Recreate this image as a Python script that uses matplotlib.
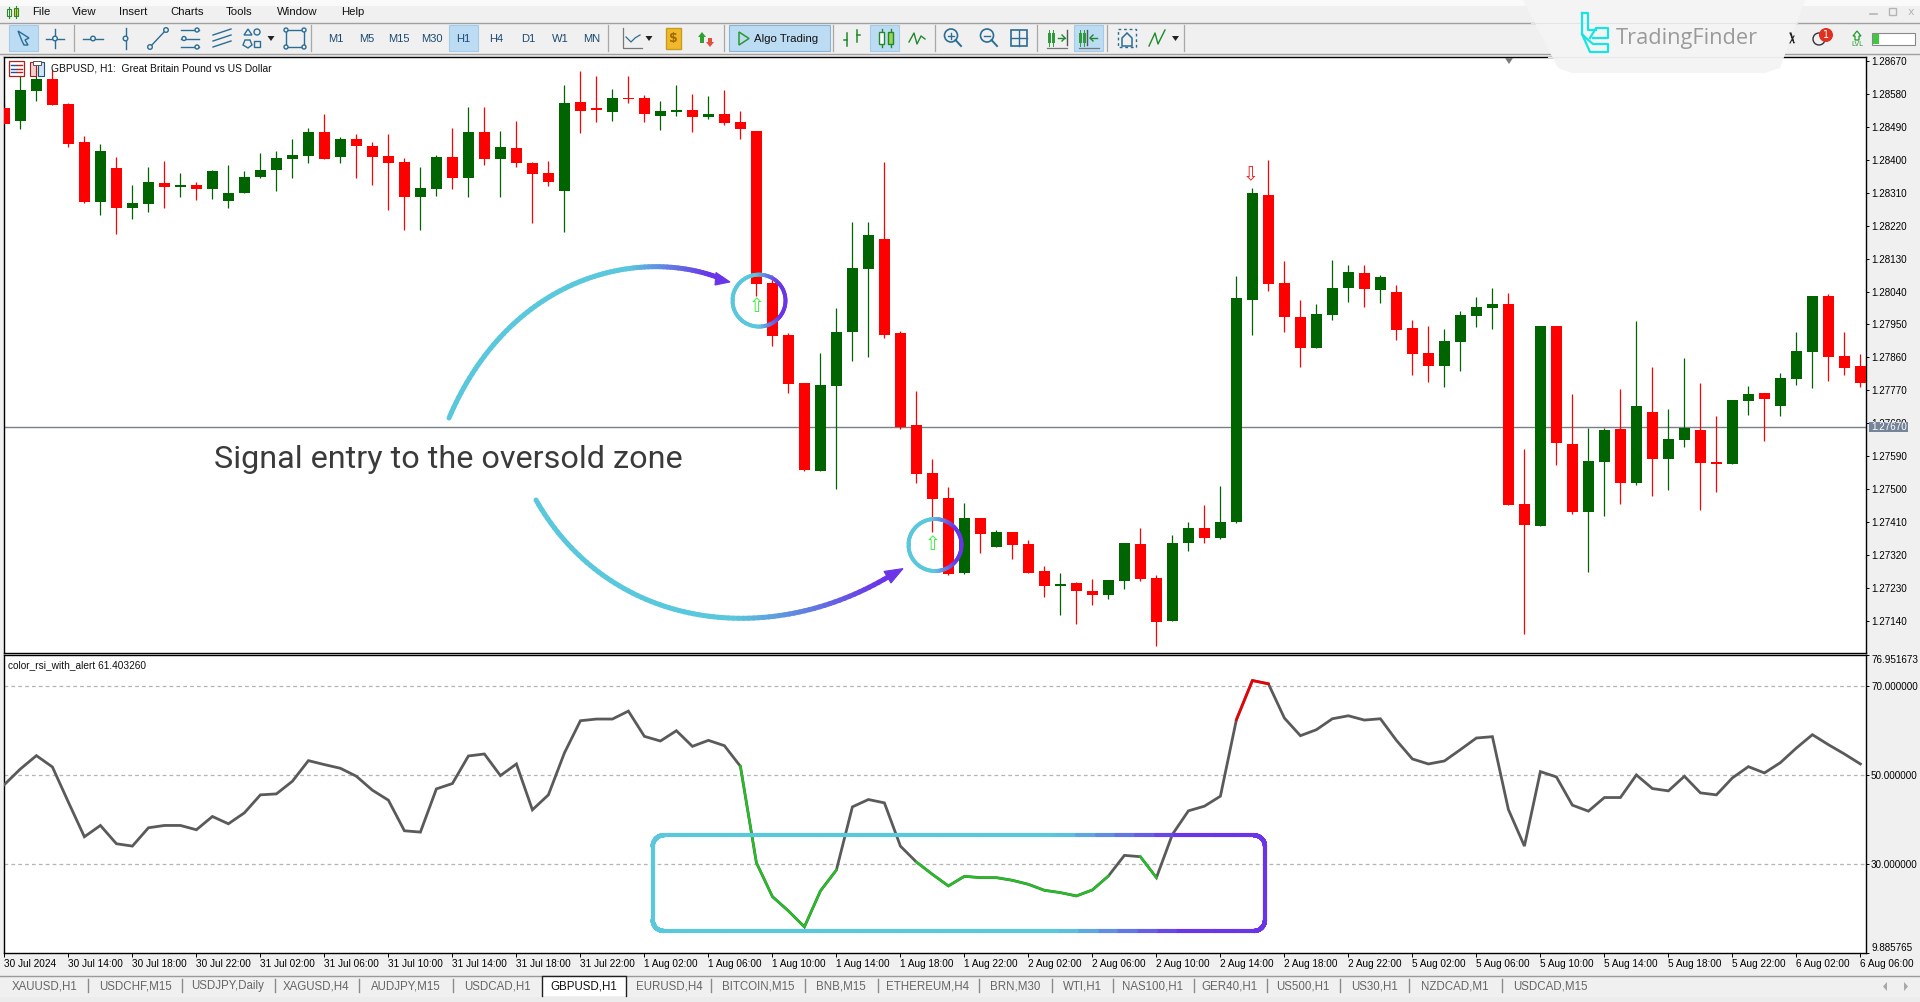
"""GBPUSD H1 terminal screenshot with RSI pane and oversold annotations."""
import matplotlib
matplotlib.use("Agg")
import matplotlib.pyplot as plt
from matplotlib.collections import LineCollection
from matplotlib.colors import to_rgb
from matplotlib.patches import Circle, Polygon, Rectangle
import numpy as np

W, H = 1920, 1002
UI_FONT = "Liberation Sans"

bar_open = [
    1.28541, 1.28507, 1.28589, 1.28621, 1.28553, 1.28449, 1.28285, 1.28378, 1.28269, 1.28280,
    1.28337, 1.28326, 1.28331, 1.28321, 1.28288, 1.28308, 1.28353, 1.28372, 1.28402, 1.28411,
    1.28476, 1.28409, 1.28457, 1.28438, 1.28411, 1.28394, 1.28299, 1.28321, 1.28408, 1.28349,
    1.28476, 1.28401, 1.28432, 1.28391, 1.28364, 1.28316, 1.28558, 1.28542, 1.28532, 1.28569,
    1.28569, 1.28519, 1.28531, 1.28536, 1.28516, 1.28524, 1.28502, 1.28478, 1.28063, 1.27921,
    1.27790, 1.27550, 1.27782, 1.27928, 1.28102, 1.28183, 1.27926, 1.27675, 1.27544, 1.27475,
    1.27270, 1.27421, 1.27341, 1.27382, 1.27349, 1.27275, 1.27234, 1.27243, 1.27221, 1.27210,
    1.27249, 1.27349, 1.27257, 1.27140, 1.27352, 1.27395, 1.27366, 1.27411, 1.28016, 1.28305,
    1.28063, 1.27970, 1.27886, 1.27976, 1.28049, 1.28090, 1.28044, 1.28039, 1.27940, 1.27872,
    1.27836, 1.27902, 1.27973, 1.27995, 1.28006, 1.27459, 1.27399, 1.27946, 1.27623, 1.27437,
    1.27574, 1.27664, 1.27516, 1.27710, 1.27582, 1.27634, 1.27661, 1.27574, 1.27568, 1.27741,
    1.27762, 1.27727, 1.27801, 1.27874, 1.28028, 1.27864, 1.27836,
]
bar_high = [
    1.28555, 1.28637, 1.28654, 1.28646, 1.28555, 1.28465, 1.28443, 1.28408, 1.28331, 1.28381,
    1.28397, 1.28364, 1.28340, 1.28372, 1.28386, 1.28370, 1.28419, 1.28424, 1.28457, 1.28487,
    1.28525, 1.28463, 1.28471, 1.28449, 1.28471, 1.28405, 1.28381, 1.28413, 1.28487, 1.28545,
    1.28545, 1.28479, 1.28506, 1.28394, 1.28397, 1.28605, 1.28643, 1.28629, 1.28594, 1.28629,
    1.28577, 1.28561, 1.28604, 1.28580, 1.28574, 1.28591, 1.28534, 1.28478, 1.28085, 1.27926,
    1.27790, 1.27872, 1.27995, 1.28231, 1.28231, 1.28395, 1.27933, 1.27767, 1.27582, 1.27505,
    1.27462, 1.27421, 1.27389, 1.27382, 1.27360, 1.27289, 1.27272, 1.27245, 1.27253, 1.27251,
    1.27352, 1.27395, 1.27265, 1.27374, 1.27409, 1.27456, 1.27509, 1.28082, 1.28324, 1.28399,
    1.28123, 1.28017, 1.28006, 1.28126, 1.28112, 1.28112, 1.28085, 1.28058, 1.27962, 1.27946,
    1.27937, 1.27987, 1.28025, 1.28049, 1.28036, 1.27609, 1.27946, 1.27946, 1.27760, 1.27667,
    1.27667, 1.27773, 1.27959, 1.27833, 1.27719, 1.27858, 1.27790, 1.27700, 1.27743, 1.27782,
    1.27762, 1.27817, 1.27929, 1.28028, 1.28033, 1.27929, 1.27869,
]
bar_low = [
    1.28499, 1.28485, 1.28562, 1.28551, 1.28436, 1.28283, 1.28250, 1.28198, 1.28237, 1.28258,
    1.28267, 1.28299, 1.28291, 1.28294, 1.28269, 1.28308, 1.28349, 1.28316, 1.28351, 1.28392,
    1.28403, 1.28390, 1.28351, 1.28332, 1.28264, 1.28209, 1.28209, 1.28302, 1.28319, 1.28299,
    1.28387, 1.28297, 1.28381, 1.28226, 1.28329, 1.28204, 1.28474, 1.28502, 1.28507, 1.28556,
    1.28502, 1.28482, 1.28519, 1.28477, 1.28512, 1.28495, 1.28456, 1.28028, 1.27891, 1.27762,
    1.27550, 1.27550, 1.27501, 1.27850, 1.27860, 1.27914, 1.27665, 1.27516, 1.27382, 1.27266,
    1.27268, 1.27325, 1.27341, 1.27308, 1.27272, 1.27204, 1.27155, 1.27131, 1.27183, 1.27200,
    1.27227, 1.27249, 1.27071, 1.27140, 1.27331, 1.27352, 1.27364, 1.27407, 1.27922, 1.28042,
    1.27929, 1.27834, 1.27886, 1.27962, 1.28011, 1.27998, 1.28008, 1.27907, 1.27812, 1.27792,
    1.27779, 1.27823, 1.27943, 1.27937, 1.27456, 1.27104, 1.27399, 1.27566, 1.27432, 1.27273,
    1.27426, 1.27459, 1.27511, 1.27481, 1.27497, 1.27615, 1.27443, 1.27492, 1.27568, 1.27702,
    1.27631, 1.27700, 1.27784, 1.27776, 1.27795, 1.27812, 1.27779,
]
bar_close = [
    1.28499, 1.28591, 1.28621, 1.28551, 1.28444, 1.28285, 1.28424, 1.28269, 1.28282, 1.28340,
    1.28326, 1.28331, 1.28319, 1.28370, 1.28309, 1.28353, 1.28372, 1.28405, 1.28413, 1.28476,
    1.28403, 1.28457, 1.28438, 1.28409, 1.28392, 1.28299, 1.28323, 1.28408, 1.28349, 1.28476,
    1.28401, 1.28435, 1.28392, 1.28362, 1.28338, 1.28555, 1.28534, 1.28537, 1.28569, 1.28565,
    1.28524, 1.28533, 1.28536, 1.28517, 1.28524, 1.28501, 1.28485, 1.28061, 1.27919, 1.27787,
    1.27552, 1.27784, 1.27928, 1.28104, 1.28194, 1.27921, 1.27671, 1.27542, 1.27473, 1.27268,
    1.27421, 1.27378, 1.27382, 1.27347, 1.27272, 1.27234, 1.27240, 1.27221, 1.27210, 1.27251,
    1.27352, 1.27254, 1.27137, 1.27352, 1.27393, 1.27367, 1.27411, 1.28022, 1.28309, 1.28060,
    1.27971, 1.27886, 1.27978, 1.28049, 1.28093, 1.28047, 1.28080, 1.27935, 1.27869, 1.27836,
    1.27905, 1.27976, 1.27998, 1.28006, 1.27456, 1.27402, 1.27946, 1.27626, 1.27437, 1.27577,
    1.27661, 1.27516, 1.27727, 1.27582, 1.27637, 1.27667, 1.27571, 1.27568, 1.27743, 1.27760,
    1.27746, 1.27803, 1.27877, 1.28028, 1.27861, 1.27831, 1.27790,
]
rsi_values = [
    47.83, 51.35, 54.35, 51.80, 43.86, 36.07, 38.62, 34.50, 33.97, 38.09,
    38.62, 38.62, 37.65, 40.64, 38.99, 41.46, 45.51, 45.73, 48.58, 53.22,
    52.33, 51.50, 49.70, 46.56, 44.31, 37.42, 37.12, 46.86, 48.06, 54.27,
    54.72, 49.85, 52.47, 42.14, 45.51, 54.95, 62.21, 62.59, 62.59, 64.38,
    58.69, 57.64, 59.96, 56.44, 57.79, 56.59, 51.95, 30.23, 22.59, 19.37,
    15.77, 23.86, 28.58, 42.81, 44.46, 43.71, 33.97, 30.38, 27.61, 24.99,
    27.16, 26.86, 26.86, 26.26, 25.36, 24.01, 23.49, 22.74, 24.09, 27.23,
    31.88, 31.58, 26.86, 36.60, 41.91, 42.96, 45.21, 62.44, 71.27, 70.53,
    62.81, 58.84, 60.19, 62.66, 63.33, 62.36, 62.66, 57.79, 53.60, 52.47,
    53.15, 55.70, 58.32, 58.62, 42.21, 33.97, 50.75, 49.55, 43.19, 41.84,
    44.91, 44.91, 50.00, 46.93, 46.41, 49.70, 45.96, 45.51, 49.33, 51.87,
    50.45, 52.77, 56.07, 59.07, 56.82, 54.72, 52.47,
]
oversold_runs = [(46, 52), (57, 69), (71, 72)]
overbought_runs = [(77, 79)]
buy_signal_bars = [47, 58]
buy_signal_prices = [1.27998, 1.27348]
sell_signal_bars = [78]
sell_signal_prices = [1.28358]
current_price = 1.27670

price_ticks = [1.28670, 1.28580, 1.28490, 1.28400, 1.28310, 1.28220, 1.28130, 1.28040, 1.27950,
               1.27860, 1.27770, 1.27680, 1.27590, 1.27500, 1.27410, 1.27320, 1.27230, 1.27140]
rsi_levels = [70, 50, 30]
rsi_min, rsi_max = 9.885765, 76.951673
time_labels = [
    "30 Jul 2024", "30 Jul 14:00", "30 Jul 18:00", "30 Jul 22:00", "31 Jul 02:00", "31 Jul 06:00",
    "31 Jul 10:00", "31 Jul 14:00", "31 Jul 18:00", "31 Jul 22:00", "1 Aug 02:00", "1 Aug 06:00",
    "1 Aug 10:00", "1 Aug 14:00", "1 Aug 18:00", "1 Aug 22:00", "2 Aug 02:00", "2 Aug 06:00",
    "2 Aug 10:00", "2 Aug 14:00", "2 Aug 18:00", "2 Aug 22:00", "5 Aug 02:00", "5 Aug 06:00",
    "5 Aug 10:00", "5 Aug 14:00", "5 Aug 18:00", "5 Aug 22:00", "6 Aug 02:00", "6 Aug 06:00",
]
menu_items = ["File", "View", "Insert", "Charts", "Tools", "Window", "Help"]
menu_x = [41, 84.5, 133.5, 187, 239, 297, 353]
timeframes = ["M1", "M5", "M15", "M30", "H1", "H4", "D1", "W1", "MN"]
timeframe_x = [335.6, 367, 399, 432, 463.5, 496, 528, 560, 591.5]
tab_names = ["XAUUSD,H1", "USDCHF,M15", "USDJPY,Daily", "XAGUSD,H4", "AUDJPY,M15", "USDCAD,H1",
             "GBPUSD,H1", "EURUSD,H4", "BITCOIN,M15", "BNB,M15", "ETHEREUM,H4", "BRN,M30", "WTI,H1",
             "NAS100,H1", "GER40,H1", "US500,H1", "US30,H1", "NZDCAD,M1", "USDCAD,M15"]
tab_x = [45, 135, 228, 316.5, 406, 497, 584, 669, 758, 841, 928, 1015, 1082, 1152.5, 1229, 1303,
         1374, 1455, 1550]
tab_separators = [88, 182, 274.5, 359, 453, 711, 805, 878, 979, 1052, 1113, 1194, 1267, 1340, 1409, 1502]

CYAN, PURPLE = "#5ac8dc", "#6a35e8"
CANDLE_UP, CANDLE_DOWN = "#006400", "#ff0000"


def px_axes(fig, left, top, right, bottom, **kw):
    return fig.add_axes([left / W, 1 - bottom / H, (right - left) / W, (bottom - top) / H], **kw)


def gradient_line(ax, xs, ys, lw, x_start, x_end, z=6):
    # colour follows x position: cyan up to x_start, purple from x_end
    pts = np.column_stack([xs, ys])
    segs = np.stack([pts[:-1], pts[1:]], axis=1)
    t = np.clip((segs[:, :, 0].mean(axis=1) - x_start) / (x_end - x_start), 0, 1)[:, None]
    cols = (1 - t) * np.array(to_rgb(CYAN)) + t * np.array(to_rgb(PURPLE))
    ax.add_collection(LineCollection(segs, colors=cols, linewidths=lw, capstyle="round", zorder=z))


def bezier(p0, p1, p2, p3, n=80):
    t = np.linspace(0, 1, n)[:, None]
    pts = ((1 - t) ** 3 * np.array(p0) + 3 * (1 - t) ** 2 * t * np.array(p1)
           + 3 * (1 - t) * t ** 2 * np.array(p2) + t ** 3 * np.array(p3))
    return pts[:, 0], pts[:, 1]


def rounded_rect(left, top, right, bottom, r, n=10):
    a = np.linspace(0, np.pi / 2, n)
    xs, ys = [], []
    for cx, cy, start in [(right - r, top + r, -np.pi / 2), (right - r, bottom - r, 0),
                          (left + r, bottom - r, np.pi / 2), (left + r, top + r, np.pi)]:
        xs.extend(cx + r * np.cos(start + a))
        ys.extend(cy + r * np.sin(start + a))
    # subdivide the long edges so the gradient stays smooth
    xs.append(xs[0]); ys.append(ys[0])
    fx, fy = [], []
    for i in range(len(xs) - 1):
        fx.extend(np.linspace(xs[i], xs[i + 1], 30, endpoint=False))
        fy.extend(np.linspace(ys[i], ys[i + 1], 30, endpoint=False))
    fx.append(xs[0]); fy.append(ys[0])
    return np.array(fx), np.array(fy)


def draw_chrome(ax):
    ax.add_patch(Rectangle((0, 0), W, H, fc="#f0f0f0", ec="none", zorder=0))
    ax.add_patch(Rectangle((0, 0), W, 6, fc="#fafafa", ec="none", zorder=0.5))
    ax.plot([0, W], [22.5, 22.5], color="#a0a0a0", lw=1, zorder=1)
    ax.plot([0, W], [54, 54], color="#a0a0a0", lw=1, zorder=1)
    for label, x in zip(menu_items, menu_x):
        ax.text(x, 12, label, fontsize=8.2, ha="center", va="center", color="#111", family=UI_FONT)
    # app icon
    ax.plot([9, 9], [7, 18], color="#2a8a2a", lw=0.8)
    ax.add_patch(Rectangle((7, 9), 4, 7, fc="#ffffff", ec="#2a8a2a", lw=0.8))
    ax.plot([16, 16], [6, 18], color="#2a8a2a", lw=0.8)
    ax.add_patch(Rectangle((14, 8), 4, 8, fc="#e8d040", ec="#2a8a2a", lw=0.8))
    # highlighted buttons
    for left, right in [(9, 38), (449, 478), (870, 899), (1074, 1103)]:
        ax.add_patch(Rectangle((left, 25), right - left, 26, fc="#bcdcf4", ec="#a4cbe8", lw=0.8, zorder=1))
    ax.add_patch(Rectangle((729, 25), 101, 26, fc="#bcdcf4", ec="#8ab4d4", lw=0.8, zorder=1))
    for x in [73.5, 311, 608, 724, 833, 935, 1036.5, 1107, 1184]:
        ax.plot([x, x], [25, 51], color="#a8a8a8", lw=0.9, zorder=1.5)
    for label, x in zip(timeframes, timeframe_x):
        ax.text(x, 38.5, label, fontsize=8.0, ha="center", va="center", color="#1a4a72", family=UI_FONT, zorder=3)
    ax.text(786, 38.5, "Algo Trading", fontsize=8.2, ha="center", va="center", color="#111", family=UI_FONT, zorder=3)
    ax.add_patch(Polygon([(739, 32), (739, 45), (749, 38.5)], fc="none", ec="#2a9a2a", lw=1.1, zorder=3))
    draw_toolbar_icons(ax)
    # bottom tab strip
    ax.add_patch(Rectangle((0, 976), W, 26, fc="#f0f0f0", ec="none", zorder=1))
    ax.plot([0, W], [975.5, 975.5], color="#9a9a9a", lw=1, zorder=1)
    ax.add_patch(Rectangle((542, 976), 84, 20, fc="white", ec="none", zorder=2))
    ax.plot([542, 542, 626, 626], [996, 976, 976, 996], color="#202020", lw=1, zorder=2.5)
    for x in tab_separators:
        ax.plot([x, x], [979, 992], color="#8a8a8a", lw=1, zorder=2)
    for label, x in zip(tab_names, tab_x):
        active = label == "GBPUSD,H1"
        ax.text(x, 986.5, label, fontsize=8.3, ha="center", va="center", family=UI_FONT,
                color="#111" if active else "#666", zorder=3)
    ax.add_patch(Rectangle((0, 997), W, 5, fc="#ececec", ec="none", zorder=1))
    for pts in [[(1887, 982), (1883, 986.5), (1887, 991)], [(1904, 982), (1908, 986.5), (1904, 991)]]:
        ax.add_patch(Polygon(pts, fc="#a8a8a8", ec="none", zorder=3))


def draw_toolbar_icons(ax):
    ink = "#2a6d95"
    kw = dict(color=ink, lw=1.0, zorder=3)
    ax.add_patch(Polygon([(18, 31), (29, 38), (25, 40), (28, 45), (24, 45), (22, 41)], fc="none", ec=ink, lw=1, zorder=3))
    ax.plot([46, 64], [38.5, 38.5], **kw); ax.plot([55, 55], [29, 48], **kw)
    ax.add_patch(Circle((55, 38.5), 2.3, fc="#f0f0f0", ec=ink, lw=1, zorder=4))
    ax.plot([83, 103], [38.5, 38.5], **kw)
    ax.add_patch(Circle((93, 38.5), 2.3, fc="#f0f0f0", ec=ink, lw=1, zorder=4))
    ax.plot([125.5, 125.5], [28, 49], **kw)
    ax.add_patch(Circle((125.5, 38.5), 2.3, fc="#f0f0f0", ec=ink, lw=1, zorder=4))
    ax.plot([150, 166], [47, 30], **kw)
    for cx, cy in [(150, 47), (166, 30)]:
        ax.add_patch(Circle((cx, cy), 2.3, fc="#f0f0f0", ec=ink, lw=1, zorder=4))
    for y, x0, x1 in [(30, 181, 199), (38.5, 181, 199), (47, 181, 199)]:
        ax.plot([x0, x1], [y, y], **kw)
    for cx, cy in [(197, 30), (184, 38.5), (197, 47)]:
        ax.add_patch(Circle((cx, cy), 2, fc="#f0f0f0", ec=ink, lw=1, zorder=4))
    for y0, y1 in [(35, 29), (41, 35), (47, 41)]:
        ax.plot([213, 231], [y0, y1], **kw)
    ax.add_patch(Polygon([(244, 35), (248, 29), (252, 35)], fc="none", ec=ink, lw=1, zorder=3))
    ax.add_patch(Circle((257, 32), 3, fc="none", ec=ink, lw=1, zorder=3))
    ax.add_patch(Polygon([(243, 45), (245, 40), (250, 40), (252, 45), (248, 48)], fc="none", ec=ink, lw=1, zorder=3))
    ax.add_patch(Rectangle((254, 41), 6, 6, fc="none", ec=ink, lw=1, zorder=3))
    for x in [271, 649, 1175.5]:
        ax.add_patch(Polygon([(x - 3.5, 36), (x + 3.5, 36), (x, 41)], fc="#222", ec="none", zorder=3))
    ax.add_patch(Rectangle((286, 30), 18, 17, fc="none", ec=ink, lw=1, zorder=3))
    for cx, cy in [(286, 30), (304, 30), (286, 47), (304, 47)]:
        ax.add_patch(Circle((cx, cy), 2, fc="#f0f0f0", ec=ink, lw=1, zorder=4))
    # chart type and market icons
    ax.plot([623, 623, 642], [28, 48, 48], color="#777", lw=0.9, zorder=3)
    ax.plot([626, 631, 635, 640], [37, 42, 38, 35], color=ink, lw=0.9, zorder=3)
    ax.add_patch(Rectangle((666, 28), 15, 21, fc="#f2b82c", ec="#c99a20", lw=1, zorder=3))
    ax.text(673.5, 38.5, "$", fontsize=9, ha="center", va="center", color="#a06a00", fontweight="bold", zorder=4)
    ax.add_patch(Polygon([(702, 32), (698, 37), (700, 37), (700, 43), (704, 43), (704, 37), (706, 37)], fc="#30a030", ec="none", zorder=3))
    ax.add_patch(Polygon([(710, 47), (706, 42), (708, 42), (708, 38), (712, 38), (712, 42), (714, 42)], fc="#e05040", ec="none", zorder=3))
    # bar, candle, line chart buttons
    green = "#1f8a2a"
    ax.plot([847, 847], [33, 46], color=green, lw=1.1, zorder=3)
    ax.plot([857, 857], [30, 42], color=green, lw=1.1, zorder=3)
    ax.plot([844, 847], [40, 40], color=green, lw=1.1, zorder=3)
    ax.plot([857, 860], [35, 35], color=green, lw=1.1, zorder=3)
    for x0 in [879, 888]:
        ax.add_patch(Rectangle((x0, 32), 5, 12, fc="#ffffff" if x0 == 879 else "#9fd05a", ec=green, lw=1, zorder=3))
        ax.plot([x0 + 2.5, x0 + 2.5], [29, 47], color=green, lw=1, zorder=2.5)
    ax.plot([909, 914, 917, 921, 925], [42, 33, 44, 36, 39], color=green, lw=1, zorder=3)
    # zoom and grid
    for cx, sign in [(951, "+"), (987, "-")]:
        ax.add_patch(Circle((cx, 35.5), 6.5, fc="none", ec=ink, lw=1.2, zorder=3))
        ax.plot([cx + 4.5, cx + 10], [40, 46], color=ink, lw=1.4, zorder=3)
        ax.plot([cx - 3, cx + 3], [35.5, 35.5], color=ink, lw=1, zorder=3)
        if sign == "+":
            ax.plot([cx, cx], [32.5, 38.5], color=ink, lw=1, zorder=3)
    ax.add_patch(Rectangle((1011, 30), 16, 16, fc="none", ec=ink, lw=1.2, zorder=3))
    ax.plot([1019, 1019], [30, 46], **kw); ax.plot([1011, 1027], [38, 38], **kw)
    # autoscroll and chart shift: two small candles, an arrow and a stop bar
    for x0, stop, head in [(1048, 1067, 1065), (1080, 1081, 1083)]:
        bars = [x0, x0 + 4] if x0 == 1048 else [x0 - 1, x0 + 3]
        for bx in bars:
            ax.add_patch(Rectangle((bx, 33), 2.5, 10, fc="#2f9a3a", ec="none", zorder=3))
            ax.plot([bx + 1.25, bx + 1.25], [30, 46], color="#2f9a3a", lw=0.7, zorder=3)
        ax.plot([x0 - 1, x0 + 19], [47.5, 47.5], color="#777", lw=0.9, zorder=3)
    ax.plot([1067, 1067], [30, 45], color="#555", lw=1, zorder=3)
    ax.plot([1058, 1065], [38, 38], color=green, lw=1, zorder=3)
    ax.plot([1062, 1065, 1062], [35, 38, 41], color=green, lw=1, zorder=3)
    ax.plot([1087, 1087], [30, 45], color="#555", lw=1, zorder=3)
    ax.plot([1090, 1097], [38, 38], color=green, lw=1, zorder=3)
    ax.plot([1093, 1090, 1093], [35, 38, 41], color=green, lw=1, zorder=3)
    ax.add_patch(Rectangle((1118, 29), 18, 18, fc="none", ec=ink, lw=1, ls=(0, (2, 2)), zorder=3))
    ax.add_patch(Polygon([(1122, 38), (1127, 33), (1132, 38), (1132, 46), (1122, 46)], fc="none", ec=ink, lw=1.1, zorder=3))
    ax.plot([1149, 1155, 1158, 1165], [46, 33, 44, 30], color=green, lw=1, zorder=3)


def draw_right_corner(ax):
    # watermark plate over the toolbar
    ax.add_patch(Polygon([(1523, 0), (1805, 0), (1780, 68), (1765, 73), (1572, 73), (1558, 68)],
                         fc="#f4f4f4", ec="none", zorder=7))
    ax.plot([1531, 1797], [22.5, 22.5], color="#e4e4e4", lw=0.8, zorder=7.5)
    ax.plot([1548, 1782], [57, 57], color="#e8e8e8", lw=0.8, zorder=7.5)
    logo = "#19e4e4"
    ax.plot([1582, 1588, 1588, 1596, 1596], [13, 13, 30, 30, 30], color=logo, lw=1.6, zorder=8)
    ax.plot([1582, 1582, 1590, 1590, 1608, 1608, 1593, 1586, 1582], [13, 34, 52, 52, 52, 44, 44, 38, 34], color=logo, lw=1.6, zorder=8)
    ax.plot([1593, 1608, 1608, 1596, 1590], [38, 38, 28, 28, 38], color=logo, lw=1.6, zorder=8)
    ax.text(1616, 38, "TradingFinder", fontsize=15.7, ha="left", va="center", color="#9a9a9a", family="Open Sans", zorder=8)
    # window controls and status icons
    ax.plot([1870, 1877], [14, 14], color="#b4b4b4", lw=1.2, zorder=8)
    ax.add_patch(Rectangle((1889, 8), 7, 7, fc="none", ec="#b4b4b4", lw=1, zorder=8))
    ax.text(1911, 12, "x", fontsize=8, ha="center", va="center", color="#b4b4b4", zorder=8)
    ax.plot([1790, 1794, 1791], [33, 43, 33], color="#222", lw=0.8, zorder=8)
    ax.plot([1794, 1790], [36, 43], color="#222", lw=0.8, zorder=8)
    ax.add_patch(Circle((1819, 39), 6, fc="none", ec="#333", lw=1, zorder=8))
    ax.add_patch(Circle((1826, 35), 7, fc="#e03020", ec="none", zorder=9))
    ax.text(1826, 35, "1", fontsize=7, ha="center", va="center", color="white", zorder=10)
    ax.add_patch(Polygon([(1857, 31), (1853, 36), (1855, 36), (1855, 40), (1859, 40), (1859, 36), (1861, 36)], fc="none", ec="#1f9a2a", lw=0.9, zorder=8))
    ax.text(1857, 44, "LVL", fontsize=5, ha="center", va="center", color="#1f9a2a", family=UI_FONT, zorder=8)
    ax.add_patch(Rectangle((1872, 33), 43, 12, fc="white", ec="#888", lw=0.8, zorder=8))
    ax.add_patch(Rectangle((1873, 34), 6, 10, fc="#3fc83f", ec="none", zorder=9))


def draw_price_pane(fig):
    ax = px_axes(fig, 4, 57, 1866, 653, zorder=2)
    ax.set_xlim(-0.025, 116.35)
    ax.set_ylim(1.27052, 1.28681)
    idx = np.arange(len(bar_open))
    opens, closes = np.array(bar_open), np.array(bar_close)
    up = closes >= opens
    cols = np.where(up, CANDLE_UP, CANDLE_DOWN)
    ax.axhline(current_price, color="#7a7f88", lw=1, zorder=1)
    ax.vlines(idx, bar_low, bar_high, colors=cols, lw=0.9, zorder=2)
    lows = np.minimum(opens, closes)
    ax.bar(idx, np.abs(closes - opens), bottom=lows, width=0.68, color=cols, lw=0, zorder=3)
    ax.set_xticks([])
    ax.yaxis.tick_right()
    ax.set_yticks(price_ticks)
    ax.set_yticklabels([f"{t:.5f}" for t in price_ticks])
    ax.tick_params(axis="y", direction="out", length=2.4, width=0.7, pad=1.5, labelsize=7.1)
    for lab in ax.get_yticklabels():
        lab.set_family(UI_FONT)
    for s in ax.spines.values():
        s.set_linewidth(1.0)
    for b, p in zip(buy_signal_bars, buy_signal_prices):
        ax.text(b, p, "\u21e7", color="#38f038", fontsize=13.5, ha="center", va="center", family="DejaVu Sans", zorder=5)
    for b, p in zip(sell_signal_bars, sell_signal_prices):
        ax.text(b - 0.08, p, "\u21e9", color="#f02020", fontsize=13.5, ha="center", va="center", family="DejaVu Sans", zorder=5)
    return ax


def draw_rsi_pane(fig):
    ax = px_axes(fig, 4, 655.3, 1866, 953, zorder=2)
    ax.set_xlim(-0.025, 116.35)
    ax.set_ylim(rsi_min, rsi_max)
    idx = np.arange(len(rsi_values))
    rsi = np.array(rsi_values)
    for lvl in rsi_levels:
        ax.axhline(lvl, color="#b4b4b4", lw=0.9, ls=(0, (3, 2.5)), zorder=1)
    ax.plot(idx, rsi, color="#5a5a5a", lw=2.0, solid_joinstyle="miter", zorder=3)
    for a, b in oversold_runs:
        ax.plot(idx[a:b + 1], rsi[a:b + 1], color="#22c022", lw=1.7, zorder=4)
    for a, b in overbought_runs:
        ax.plot(idx[a:b + 1], rsi[a:b + 1], color="#ee0000", lw=1.9, zorder=4)
    ax.set_xticks(idx[::4])
    ax.set_xticklabels(time_labels)
    ax.yaxis.tick_right()
    ticks = [rsi_max] + rsi_levels + [rsi_min]
    ax.set_yticks(ticks)
    ax.set_yticklabels([f"{t:.6f}" for t in ticks])
    ax.tick_params(axis="y", direction="out", length=2.4, width=0.7, pad=1.2, labelsize=7.1)
    ax.tick_params(axis="x", direction="out", length=3, width=0.7, pad=1.5, labelsize=7.2)
    for lab in ax.get_xticklabels():
        lab.set_ha("left")
        lab.set_family(UI_FONT)
    labs = ax.get_yticklabels()
    for lab in labs:
        lab.set_family(UI_FONT)
    labs[0].set_va("top")
    labs[-1].set_va("bottom")
    for s in ax.spines.values():
        s.set_linewidth(1.0)
    return ax


def draw_overlay(ax):
    # pane headers
    ax.add_patch(Rectangle((9, 61), 15, 15, fc="white", ec="#b02020", lw=0.9, zorder=5))
    for y in [65, 68.5, 72]:
        ax.plot([11, 15.5], [y, y], color="#1f4e9a", lw=1, zorder=6)
        ax.plot([17, 22], [y, y], color="#c02020", lw=1, zorder=6)
    ax.add_patch(Rectangle((30, 62), 6, 14, fc="#f4d0d0", ec="#a02020", lw=0.8, zorder=5))
    ax.add_patch(Rectangle((38, 62), 6, 14, fc="#cfe6f6", ec="#205080", lw=0.8, zorder=5))
    ax.add_patch(Rectangle((33, 60.5), 8, 4, fc="white", ec="#555", lw=0.7, zorder=6))
    ax.text(51, 68.3, "GBPUSD, H1:  Great Britain Pound vs US Dollar", fontsize=7.4, ha="left", va="center",
            color="#111", family=UI_FONT, zorder=6)
    ax.text(7.5, 664.7, "color_rsi_with_alert 61.403260", fontsize=7.3, ha="left", va="center",
            color="#111", family=UI_FONT, zorder=6)
    ax.add_patch(Polygon([(1505, 58), (1513, 58), (1509, 64)], fc="#7a7a7a", ec="none", zorder=6))
    # current price tag
    ax.add_patch(Rectangle((1869, 421.7), 39, 10, fc="#76849a", ec="none", zorder=6))
    ax.text(1871, 426.7, f"{current_price:.5f}", fontsize=7.1, ha="left", va="center", color="white",
            family=UI_FONT, zorder=7)
    # annotation text and gradient callouts
    ax.text(448, 460, "Signal entry to the oversold zone", fontsize=23.3, ha="center", va="center",
            color="#3a3a3a", family="Roboto", zorder=6)
    xs, ys = bezier((449, 418), (510, 275), (640, 246), (722, 279))
    gradient_line(ax, xs, ys, 3.6, 630, 710)
    ax.add_patch(Polygon([(730, 282), (716, 272.5), (715, 285)], fc=PURPLE, ec=PURPLE, lw=0.8, zorder=7))
    xs, ys = bezier((536, 500), (610, 630), (770, 650), (893, 574))
    gradient_line(ax, xs, ys, 3.6, 735, 880)
    ax.add_patch(Polygon([(903, 568.6), (884, 571.4), (891, 583)], fc=PURPLE, ec=PURPLE, lw=0.8, zorder=7))
    a = np.linspace(0, 2 * np.pi, 120)
    for cx, cy in [(759, 300.6), (935, 545)]:
        gradient_line(ax, cx + 26.5 * np.cos(a), cy + 26 * np.sin(a), 2.8, cx - 2, cx + 20)
    xs, ys = rounded_rect(652.7, 835.3, 1265, 931, 11)
    gradient_line(ax, xs, ys, 3.0, 1060, 1180)


fig = plt.figure(figsize=(W / 100, H / 100), dpi=100, facecolor="#f0f0f0")
chrome = px_axes(fig, 0, 0, W, H, zorder=0)
chrome.set_xlim(0, W); chrome.set_ylim(H, 0); chrome.axis("off")
draw_chrome(chrome)

price_ax = draw_price_pane(fig)
rsi_ax = draw_rsi_pane(fig)

overlay = px_axes(fig, 0, 0, W, H, zorder=5)
overlay.set_xlim(0, W); overlay.set_ylim(H, 0); overlay.axis("off")
overlay.patch.set_alpha(0)
draw_overlay(overlay)
draw_right_corner(overlay)

fig.savefig("out.png", dpi=100, facecolor=fig.get_facecolor())
